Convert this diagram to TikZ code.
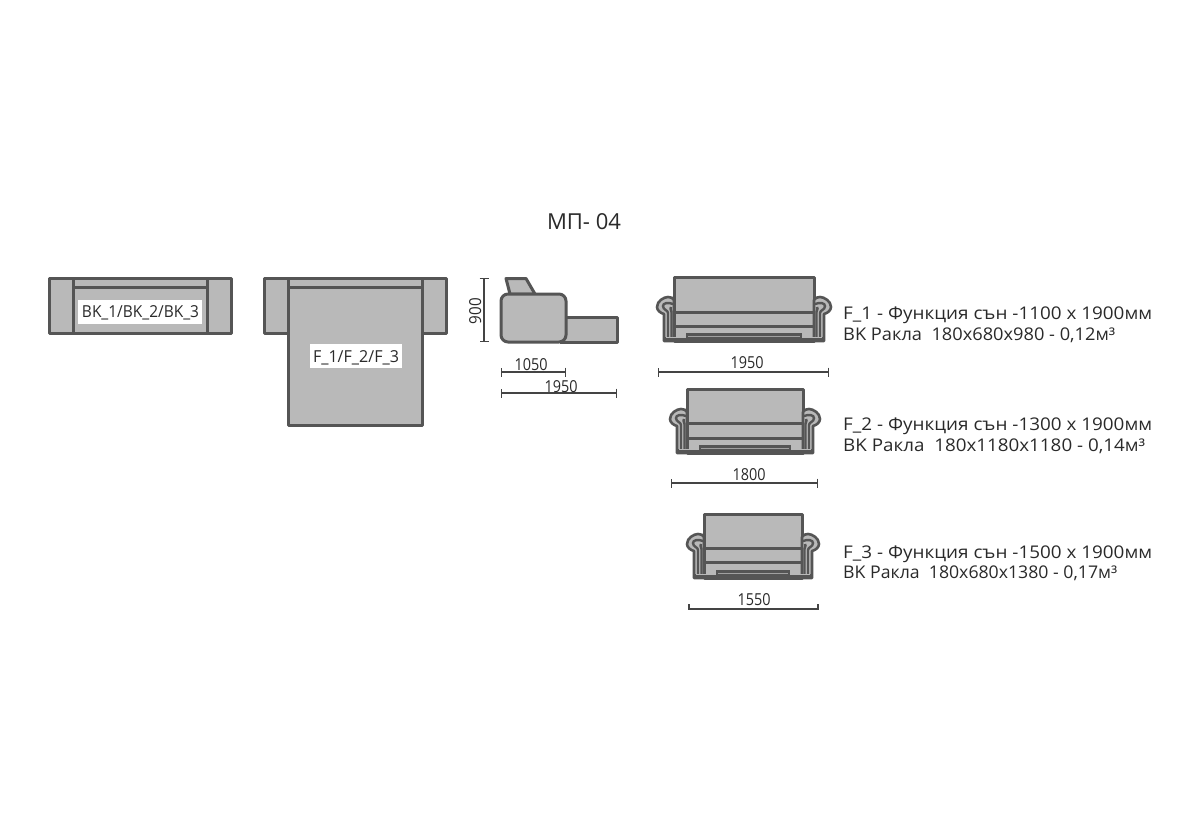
\documentclass[tikz,border=0pt]{standalone}
\usepackage{fontspec}
\usepackage{graphicx}
\setmainfont{Open Sans}
\usetikzlibrary{arrows.meta}
\definecolor{fillg}{HTML}{B9B9B9}
\definecolor{edgeg}{HTML}{555555}
\definecolor{txt}{HTML}{2A2A2A}
\definecolor{dimg}{HTML}{444444}
\newcommand\fitw[2]{\resizebox{#1pt}{\height}{#2}}
\tikzset{
  x=1pt,y=-1pt,
  part/.style={draw=edgeg,fill=fillg,line width=3pt,line join=round},
  seamline/.style={draw=edgeg,line width=3pt},
  dimline/.style={draw=dimg,line width=1.1pt,{Bar[width=9pt,line width=1.1pt]}-{Bar[width=9pt,line width=1.1pt]}},
  dimplain/.style={draw=dimg,line width=1.1pt},
  lbl/.style={inner sep=0pt,text=txt,font=\fontsize{16.5}{16.5}\selectfont,anchor=base},
  info/.style={inner sep=0pt,text=txt,font=\fontsize{17.5}{17.5}\selectfont,anchor=base west},
  tag/.style={fill=white,inner sep=0pt},
  armouter/.style={draw=edgeg,fill=fillg,line width=2.6pt,line join=round},
  arminner/.style={draw=edgeg,line width=2.4pt},
}
% left arm, local origin = bottom of the back's left edge
\newcommand\armpart{%
  \draw[armouter] (0,0) -- (-10,0) -- (-10,-27)
     .. controls (-14,-28) and (-17,-31) .. (-17,-34)
     .. controls (-17,-40) and (-10,-44) .. (-6,-44)
     .. controls (-3,-44) and (-1,-43) .. (0,-41) -- cycle;
  \draw[arminner] (-6,-2) -- (-6,-28) .. controls (-6,-31) and (-11,-31) .. (-11,-35)
     .. controls (-11,-38) and (-6,-39) .. (-1,-37);
  \draw[arminner] (-2.5,-2) -- (-2.5,-29) .. controls (-2.5,-32) and (-5,-33) .. (-3,-34);
  \fill[edgeg] (-10,-4.5) rectangle (13,0.5);
  \draw[fillg,line width=0.7pt] (-8,-3.8) -- (12,-3.8);
}
% #1 xl, #2 xr, #3 top, #4 seam1, #5 seam2, #6 bottom
\newcommand\sofaview[6]{%
  \draw[part] (#1,#3) rectangle (#2,#6);
  \draw[seamline] (#1,#4) -- (#2,#4);
  \draw[seamline] (#1,#5) -- (#2,#5);
  \begin{scope}[shift={(#1,#6)}]\armpart\end{scope}
  \begin{scope}[shift={(#2,#6)},xscale=-1]\armpart\end{scope}
  \fill[edgeg] (#1+12,#6-8.5) rectangle (#2-12,#6+1);
  \draw[fillg!75!edgeg,line width=1pt] (#1+14,#6-5) -- (#2-14,#6-5);
}
\begin{document}
\begin{tikzpicture}
\path[use as bounding box,fill=white] (0,0) rectangle (1200,820);

\node[lbl,font=\fontsize{22}{22}\selectfont] (title) at (584,229.5) {\fitw{74}{МП- 04}};

% back view
\draw[part] (49.5,278) rectangle (231.5,333);
\draw[seamline] (73,278) -- (73,333);
\draw[seamline] (207,278) -- (207,333);
\draw[seamline] (73,287) -- (207,287);
\node[tag,minimum width=124pt,minimum height=24pt] (bktag) at (140,312) {};
\node[lbl] (bk) at (140.5,317.5) {\fitw{117}{BK\_1/BK\_2/BK\_3}};

% top view
\draw[part] (264.5,278) rectangle (288,333);
\draw[part] (422,278) rectangle (446.5,333);
\draw[part] (288,278) rectangle (422,425);
\draw[seamline] (288,287) -- (422,287);
\node[tag,minimum width=92pt,minimum height=24pt] (ftag) at (356,356) {};
\node[lbl] (f) at (356,362) {\fitw{86}{F\_1/F\_2/F\_3}};

% side view
\draw[part] (506,278.5) -- (526,278.5) -- (535,294) -- (510,294) -- cycle;
\draw[part] (566,317) -- (617,317) -- (617,342) -- (560,342);
\draw[part,rounded corners=7pt] (501,294) rectangle (566,342);

\coordinate (h1) at (484,278); \coordinate (h2) at (484,342);
\draw[dimline] (h1) -- (h2);
\node[lbl,rotate=90] (h) at (481,311) {\fitw{26}{900}};
\coordinate (a1) at (501,372); \coordinate (a2) at (566,372);
\draw[dimline] (a1) -- (a2);
\node[lbl] (ta) at (531,370.5) {\fitw{33}{1050}};
\coordinate (b1) at (501,393); \coordinate (b2) at (617,393);
\draw[dimline] (b1) -- (b2);
\node[lbl] (tb) at (561,392) {\fitw{33}{1950}};

% front views
\sofaview{674}{814}{277.5}{312.5}{326}{341}
\coordinate (c1) at (658,372); \coordinate (c2) at (829,372);
\draw[dimline] (c1) -- (c2);
\node[lbl] (tc) at (747,368.5) {\fitw{33}{1950}};

\sofaview{687}{803}{389.5}{423}{438}{453}
\coordinate (d1) at (671,483); \coordinate (d2) at (818,483);
\draw[dimline] (d1) -- (d2);
\node[lbl] (td) at (749,480) {\fitw{33}{1800}};

\sofaview{704}{802}{514}{548}{562.5}{578}
\coordinate (e1) at (689,609); \coordinate (e2) at (818,609);
\coordinate (e1t) at (689,604); \coordinate (e2t) at (818,604);
\draw[dimplain] (e1t) -- (e1) -- (e2) -- (e2t);
\node[lbl] (te) at (754,605.5) {\fitw{33}{1550}};

% info
\node[info] (i1) at (843,319.5) {\fitw{309}{F\_1 - Функция сън -1100 x 1900мм}};
\node[info] (i2) at (843,340) {\fitw{272}{BK Ракла\ \ 180x680x980 - 0,12м³}};
\node[info] (i3) at (843,430.5) {\fitw{309}{F\_2 - Функция сън -1300 x 1900мм}};
\node[info] (i4) at (843,451) {\fitw{302}{BK Ракла\ \ 180x1180x1180 - 0,14м³}};
\node[info] (i5) at (843,558) {\fitw{309}{F\_3 - Функция сън -1500 x 1900мм}};
\node[info] (i6) at (843,578) {\fitw{274}{BK Ракла\ \ 180x680x1380 - 0,17м³}};
\end{tikzpicture}
\end{document}
